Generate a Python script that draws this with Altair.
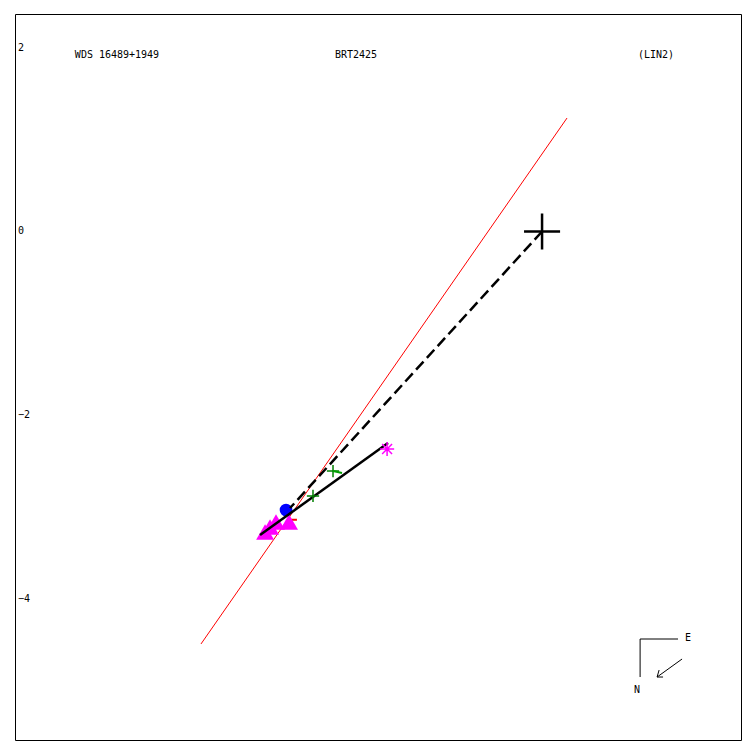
import altair as alt
import pandas as pd

XD = [-5.741, 2.167]
YD = [-5.539, 2.369]

# fitted linear path (red)
red_x = [-3.715, 0.272]
red_y = [-4.493, 1.236]
# dashed line primary -> nearest point
dash_x = [0.0, -2.745]
dash_y = [0.0, -3.012]
# solid black path
solid_x = [-3.072, -1.678]
solid_y = [-3.306, -2.304]

# measurements
tri_x = [-3.017, -2.963, -2.898, -2.756]
tri_y = [-3.273, -3.219, -3.165, -3.165]
circ_x = [-2.789]
circ_y = [-3.034]
green_x = [-2.495, -2.277]
green_y = [-2.881, -2.609]
ast_x = [-1.688]
ast_y = [-2.369]
prim_x = [0.0]
prim_y = [0.0]

# O-C small segments
ocg = [(-2.277, -2.609, -2.179, -2.631)]
ocr = [(-3.000, -3.230, -2.900, -3.241), (-2.745, -3.140, -2.670, -3.140)]

# compass
comp = [(1.068, -4.439, 1.481, -4.439), (1.068, -4.439, 1.068, -4.853),
        (1.525, -4.657, 1.253, -4.853), (1.253, -4.853, 1.318, -4.853),
        (1.253, -4.853, 1.275, -4.777)]
comp_lbl = ["E", "N"]
comp_lx = [1.590, 1.035]
comp_ly = [-4.428, -4.994]

titles = ["WDS 16489+1949", "BRT2425", "(LIN2)"]
title_x = [-4.63, -2.026, 1.242]
title_y = [1.923, 1.923, 1.923]

ytick_vals = [2, 0, -2, -4]
ytick_lbls = ["2", "0", "\u22122", "\u22124"]


def X(f="x"):
    return alt.X(f"{f}:Q", scale=alt.Scale(domain=XD, nice=False, zero=False), axis=None)


def Y(f="y"):
    return alt.Y(f"{f}:Q", scale=alt.Scale(domain=YD, nice=False, zero=False), axis=None)


def line_df(xs, ys):
    return pd.DataFrame({"x": xs, "y": ys, "o": list(range(len(xs)))})


def seg_df(segs):
    return pd.DataFrame(segs, columns=["x", "y", "x2", "y2"])


red = alt.Chart(line_df(red_x, red_y)).mark_line(color="red", strokeWidth=1).encode(
    x=X(), y=Y(), order="o:Q")
dash = alt.Chart(line_df(dash_x, dash_y)).mark_line(
    color="black", strokeWidth=2.5, strokeDash=[11, 5]).encode(x=X(), y=Y(), order="o:Q")
solid = alt.Chart(line_df(solid_x, solid_y)).mark_line(
    color="black", strokeWidth=2.5).encode(x=X(), y=Y(), order="o:Q")

tri = alt.Chart(pd.DataFrame({"x": tri_x, "y": tri_y})).mark_point(
    shape="triangle-up", filled=True, color="#ff00ff", opacity=1, size=320).encode(x=X(), y=Y())
circ = alt.Chart(pd.DataFrame({"x": circ_x, "y": circ_y})).mark_point(
    shape="circle", filled=True, color="#0000ff", opacity=1, size=160).encode(x=X(), y=Y())
ocr_l = alt.Chart(seg_df(ocr)).mark_rule(color="red", strokeWidth=2).encode(
    x=X(), y=Y(), x2="x2:Q", y2="y2:Q")
green = alt.Chart(pd.DataFrame({"x": green_x, "y": green_y})).mark_point(
    shape="M-1,0L1,0M0,-1L0,1", filled=False, color="#008000", strokeWidth=1.5,
    opacity=1, size=150).encode(x=X(), y=Y())
ocg_l = alt.Chart(seg_df(ocg)).mark_rule(color="#00a000", strokeWidth=2).encode(
    x=X(), y=Y(), x2="x2:Q", y2="y2:Q")
ast = alt.Chart(pd.DataFrame({"x": ast_x, "y": ast_y})).mark_point(
    shape="M-1,0L1,0M0,-1L0,1M-0.7,-0.7L0.7,0.7M-0.7,0.7L0.7,-0.7", filled=False,
    color="#ff00ff", strokeWidth=1.5, opacity=1, size=200).encode(x=X(), y=Y())
prim = alt.Chart(pd.DataFrame({"x": prim_x, "y": prim_y})).mark_point(
    shape="M-1,0L1,0M0,-1L0,1", filled=False, color="black", strokeWidth=2.5,
    opacity=1, size=1300).encode(x=X(), y=Y())

comp_l = alt.Chart(seg_df(comp)).mark_rule(color="black", strokeWidth=1).encode(
    x=X(), y=Y(), x2="x2:Q", y2="y2:Q")
comp_t = alt.Chart(pd.DataFrame({"t": comp_lbl, "x": comp_lx, "y": comp_ly})).mark_text(
    font="DejaVu Sans Mono", fontSize=10, color="black").encode(x=X(), y=Y(), text="t:N")

title_t = alt.Chart(pd.DataFrame({"t": titles, "x": title_x, "y": title_y})).mark_text(
    font="DejaVu Sans Mono", fontSize=10, color="black").encode(x=X(), y=Y(), text="t:N")

ytk = alt.Chart(pd.DataFrame({"t": ytick_lbls, "y": ytick_vals, "x": [XD[0]] * 4})).mark_text(
    font="DejaVu Sans Mono", fontSize=10, color="black", align="left", dx=3).encode(
    x=X(), y=Y(), text="t:N")

chart = alt.layer(
    red, ocr_l, tri, circ, dash, solid, green, ocg_l, ast, prim,
    comp_l, comp_t, title_t, ytk
).properties(
    width=726, height=726,
    autosize=alt.AutoSizeParams(type="none"),
    padding={"left": 7, "top": 6, "right": 1, "bottom": 1},
    background="white",
).configure_view(stroke="black", strokeWidth=1)

chart.save("out.html", embed_options={"renderer": "svg", "actions": False})
